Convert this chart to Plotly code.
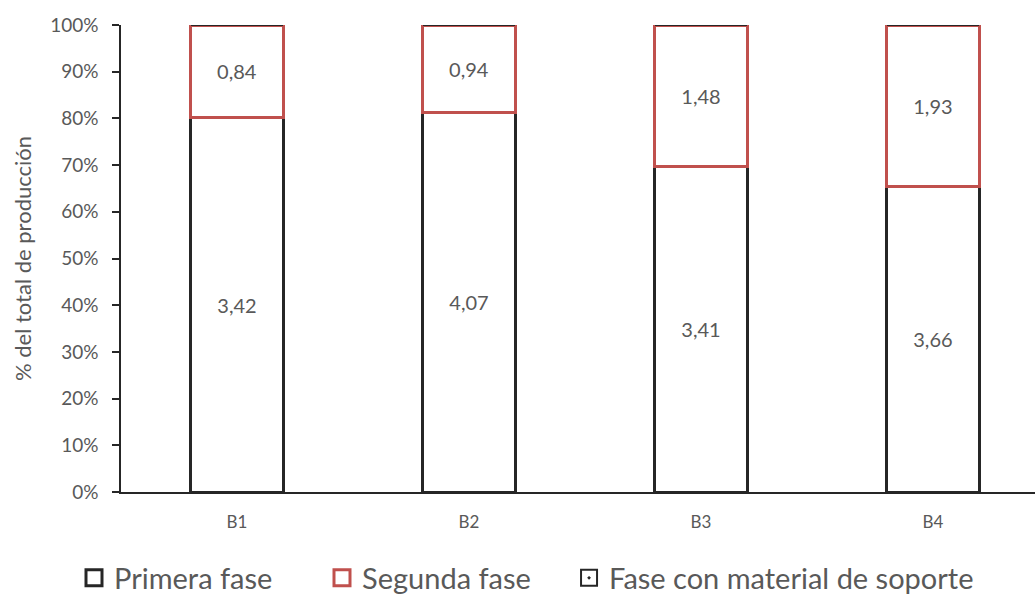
import plotly.graph_objects as go

categories = ["B1", "B2", "B3", "B4"]
primera = [3.42, 4.07, 3.41, 3.66]
segunda = [0.84, 0.94, 1.48, 1.93]
soporte = [0, 0, 0, 0]
series_names = ["Primera fase", "Segunda fase", "Fase con material de soporte"]
y_tickvals = [0, 10, 20, 30, 40, 50, 60, 70, 80, 90, 100]
y_ticktext = [f"{v}%" for v in y_tickvals]

def fmt(v):
    return f"{v:.2f}".replace(".", ",")

FONT = "Lato, 'Open Sans', sans-serif"
GRAY = "#595959"
BLACK = "#262626"
RED = "#C0504D"

fig = go.Figure()
fig.add_trace(go.Bar(
    x=categories, y=primera, name=series_names[0], showlegend=False,
    text=[fmt(v) for v in primera], textposition="inside", insidetextanchor="middle",
    textfont=dict(size=20, color=GRAY, family=FONT),
    marker=dict(color="white", line=dict(color=BLACK, width=3)),
    width=0.4, hoverinfo="skip",
))
fig.add_trace(go.Bar(
    x=categories, y=segunda, name=series_names[1], showlegend=False,
    text=[fmt(v) for v in segunda], textposition="inside", insidetextanchor="middle",
    textfont=dict(size=20, color=GRAY, family=FONT),
    marker=dict(color="white", line=dict(color=RED, width=3)),
    width=0.4, hoverinfo="skip",
))
fig.add_trace(go.Bar(
    x=categories, y=soporte, name=series_names[2], showlegend=False,
    marker=dict(color="white", line=dict(color=BLACK, width=1.5),
                pattern=dict(shape=".", fgcolor=BLACK, bgcolor="white", size=5, solidity=0.3)),
    width=0.4, hoverinfo="skip",
))

# legend entries (empty traces, only for the legend swatches)
legend_styles = [("square-open", BLACK, "legend"), ("square-open", RED, "legend"),
                 ("square-open-dot", BLACK, "legend2")]
for name, (sym, col, lg) in zip(series_names, legend_styles):
    fig.add_trace(go.Scatter(
        x=[None], y=[None], mode="markers", name=name, showlegend=True, legend=lg,
        marker=dict(symbol=sym, size=16, color=col,
                    line=dict(color=col, width=3 if sym == "square-open" else 2)),
        hoverinfo="skip",
    ))

legend_common = dict(orientation="h", xref="container", yref="container",
                     xanchor="left", y=0.0286, yanchor="middle",
                     font=dict(size=29, color=GRAY, family=FONT), itemwidth=30,
                     traceorder="normal", bgcolor="rgba(0,0,0,0)")

fig.update_layout(
    width=1035, height=595,
    barmode="stack", barnorm="percent",
    paper_bgcolor="white", plot_bgcolor="white",
    margin=dict(l=121, r=0, t=25, b=103, autoexpand=False),
    font=dict(family=FONT, color=GRAY),
    showlegend=True,
    legend=dict(x=0.0715, entrywidth=203, entrywidthmode="pixels", **legend_common),
    legend2=dict(x=0.5498, **legend_common),
    xaxis=dict(range=[-0.5, 3.44], showline=True, linecolor=BLACK, linewidth=1.5,
               ticks="", tickfont=dict(size=17, color=GRAY, family=FONT),
               ticklabelstandoff=14, automargin=False,
               showgrid=False, zeroline=False),
    yaxis=dict(range=[0, 100], tickmode="array", tickvals=y_tickvals, ticktext=y_ticktext,
               showline=True, linecolor=BLACK, linewidth=1.5,
               ticks="outside", ticklen=7, tickcolor=BLACK, tickwidth=1.5,
               tickfont=dict(size=19, color=GRAY, family=FONT),
               ticklabelstandoff=10, automargin=False,
               showgrid=False, zeroline=False,
               title=dict(text="% del total de producción", font=dict(size=22, color=GRAY, family=FONT),
                          standoff=12)),
)

fig.write_html("out.html")
